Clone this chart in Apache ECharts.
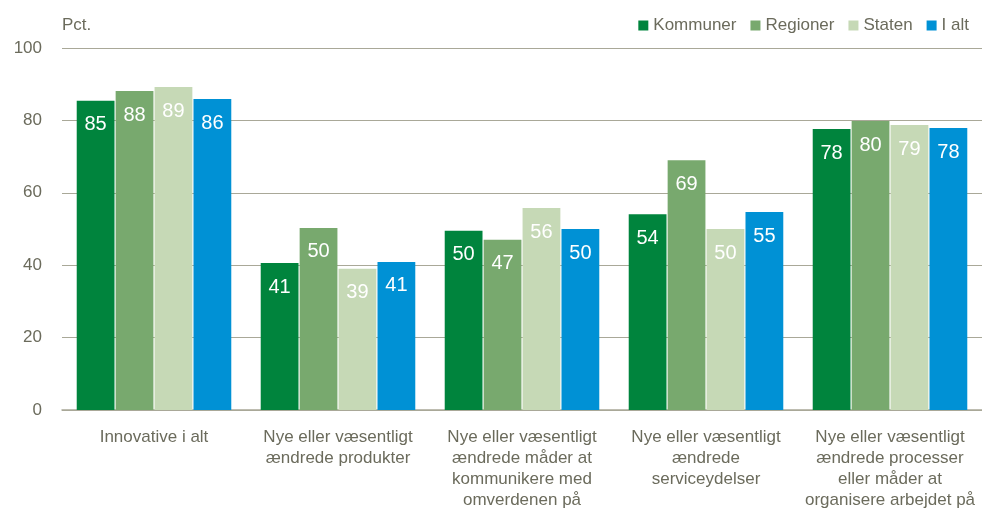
<!DOCTYPE html>
<html>
<head>
<meta charset="utf-8">
<script src="https://cdn.jsdelivr.net/npm/echarts@6/dist/echarts.min.js"></script>
<style>
  html, body { margin: 0; padding: 0; background: #fff; }
  #chart { width: 982px; height: 522px; }
</style>
</head>
<body>
<div id="chart"></div>
<script>
var categories = [
    'Innovative i alt',
    'Nye eller væsentligt\nændrede produkter',
    'Nye eller væsentligt\nændrede måder at\nkommunikere med\nomverdenen på',
    'Nye eller væsentligt\nændrede\nserviceydelser',
    'Nye eller væsentligt\nændrede processer\neller måder at\norganisere arbejdet på'
];
var seriesNames = ['Kommuner', 'Regioner', 'Staten', 'I alt'];
var kommuner = [85.4, 40.6, 49.5, 54.1, 77.6];
var regioner = [88.1, 50.3, 47.0, 69.0, 79.8];
var staten = [89.2, 39.0, 55.8, 50.0, 78.7];
var iAlt = [85.9, 40.9, 50.0, 54.7, 77.9];
var colors = ['#00843d', '#78a96e', '#c6d9b6', '#0091d5'];

var textColor = '#6b6b5c';
var font = 'Liberation Sans, Arial, sans-serif';

var chartDom = document.getElementById('chart');
var myChart = echarts.init(chartDom);
var option;

var makeSeries = (name, data, i) => {
    return {
        name: name,
        type: 'bar',
        data: data,
        barGap: '3%',
        barCategoryGap: '16%',
        itemStyle: { color: colors[i] },
        label: {
            show: true,
            position: 'insideTop',
            distance: 14,
            color: '#fff',
            fontSize: 20,
            fontFamily: font,
            formatter: (p) => Math.round(p.value)
        }
    };
};

option = {
    animation: false,
    grid: { left: 62, right: 0, top: 48, bottom: 112 },
    legend: {
        right: 8,
        top: 12,
        itemWidth: 10,
        itemHeight: 10,
        itemGap: 14,
        icon: 'rect',
        textStyle: { color: textColor, fontSize: 17, fontFamily: font },
        data: seriesNames
    },
    xAxis: {
        type: 'category',
        data: categories,
        axisLine: { lineStyle: { color: '#a9a898', width: 1.5 } },
        axisTick: { show: false },
        axisLabel: {
            color: textColor,
            fontSize: 17,
            fontFamily: font,
            lineHeight: 21,
            margin: 17,
            interval: 0
        }
    },
    yAxis: {
        type: 'value',
        min: 0,
        max: 100,
        interval: 20,
        name: 'Pct.',
        nameLocation: 'end',
        nameGap: 14,
        nameTextStyle: { color: textColor, fontSize: 17, fontFamily: font, align: 'left' },
        axisLine: { show: false },
        axisTick: { show: false },
        axisLabel: { color: textColor, fontSize: 17, fontFamily: font, margin: 20 },
        splitLine: { lineStyle: { color: '#a9a898', width: 1 } }
    },
    series: [
        makeSeries(seriesNames[0], kommuner, 0),
        makeSeries(seriesNames[1], regioner, 1),
        makeSeries(seriesNames[2], staten, 2),
        makeSeries(seriesNames[3], iAlt, 3)
    ]
};

option && myChart.setOption(option);
</script>
</body>
</html>
